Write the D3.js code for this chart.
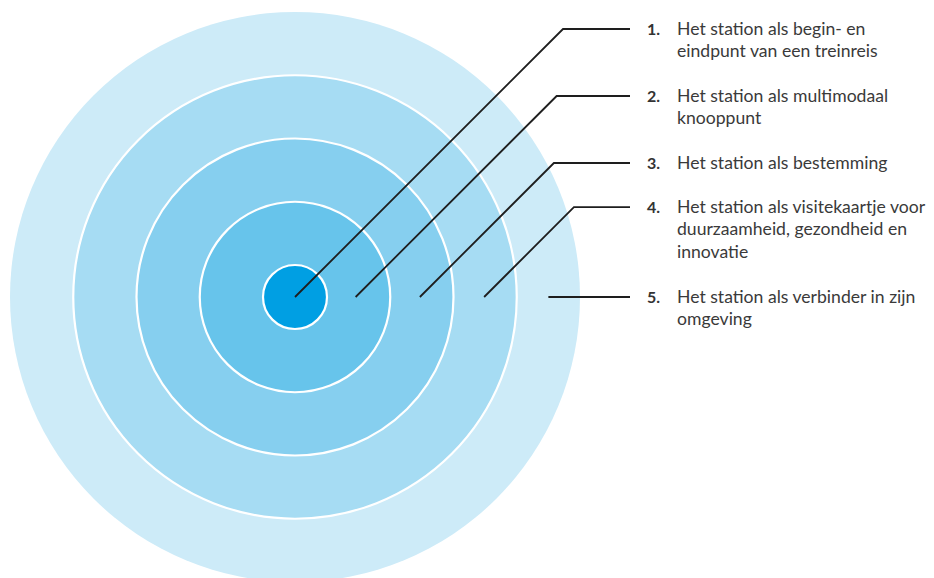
<!DOCTYPE html>
<html>
<head>
<meta charset="utf-8">
<script src="https://cdn.jsdelivr.net/npm/d3@7"></script>
<style>
  body { margin: 0; background: #fff; }
  svg { display: block; }
</style>
</head>
<body>
<div id="container"></div>
<script>
// rings from the centre outwards
const levels = [1, 2, 3, 4, 5];
const ringColors = ["#009fe3", "#67c4eb", "#86cfef", "#a6dcf3", "#cdebf8"];

const numbers = ["1.", "2.", "3.", "4.", "5."];
const labels = [
    ["Het station als begin- en", "eindpunt van een treinreis"],
    ["Het station als multimodaal", "knooppunt"],
    ["Het station als bestemming"],
    ["Het station als visitekaartje voor", "duurzaamheid, gezondheid en", "innovatie"],
    ["Het station als verbinder in zijn", "omgeving"]
];

const width = 934,
    height = 578;
const cx = 295,
    cy = 297;

const svg = d3.select("#container")
    .append("svg")
    .attr("width", width)
    .attr("height", height);

const r = d3.scaleLinear()
    .domain([1, 5])
    .range([32, 285]);

// draw biggest first so the smaller ones sit on top
svg.selectAll(".ring")
    .data(levels.slice().reverse())
    .enter()
    .append("circle")
    .attr("class", "ring")
    .attr("cx", cx)
    .attr("cy", cy)
    .attr("r", d => r(d))
    .attr("fill", d => ringColors[d - 1])
    .attr("stroke", d => d == 5 ? "none" : "#fff")
    .attr("stroke-width", 2.2);

// label layout: first label at the top, last one level with the centre
const lineHeight = 22.8,
    firstY = 29;
const linesBefore = d3.sum(labels.slice(0, -1), l => l.length);
const gap = (cy - firstY - linesBefore * lineHeight) / (labels.length - 1);
const labelY = [];
let yy = firstY;
labels.forEach(function (l) {
    labelY.push(yy);
    yy += l.length * lineHeight + gap;
});

const lineEndX = 630;

// leader lines: start in the ring, go up at 45 degrees, then horizontal
const leader = svg.selectAll(".leader")
    .data(levels)
    .enter()
    .append("path")
    .attr("class", "leader")
    .attr("fill", "none")
    .attr("stroke", "#1e1e1e")
    .attr("stroke-width", 1.8)
    .attr("d", function (d, i) {
        const sx = cx + (d == 1 ? 0 : (r(d - 1) + r(d)) / 2 - (5 - d));
        const ty = labelY[i];
        const bx = sx + (cy - ty);
        return "M" + sx + "," + cy + " L" + bx + "," + ty + " L" + lineEndX + "," + ty;
    });

const item = svg.selectAll(".item")
    .data(levels)
    .enter()
    .append("g")
    .attr("class", "item")
    .attr("transform", (d, i) => "translate(0," + labelY[i] + ")");

item.append("text")
    .attr("x", 647)
    .attr("y", 5.5)
    .style("font-family", "Lato, sans-serif")
    .style("font-weight", "bold")
    .style("font-size", "16px")
    .attr("fill", "#333")
    .text((d, i) => numbers[i]);

item.append("text")
    .attr("y", 5.5)
    .style("font-family", "Lato, sans-serif")
    .style("font-size", "17.6px")
    .attr("fill", "#3a3a3a")
    .selectAll("tspan")
    .data((d, i) => labels[i])
    .enter()
    .append("tspan")
    .attr("x", 677)
    .attr("dy", (d, j) => j == 0 ? 0 : lineHeight)
    .text(d => d);
</script>
</body>
</html>
